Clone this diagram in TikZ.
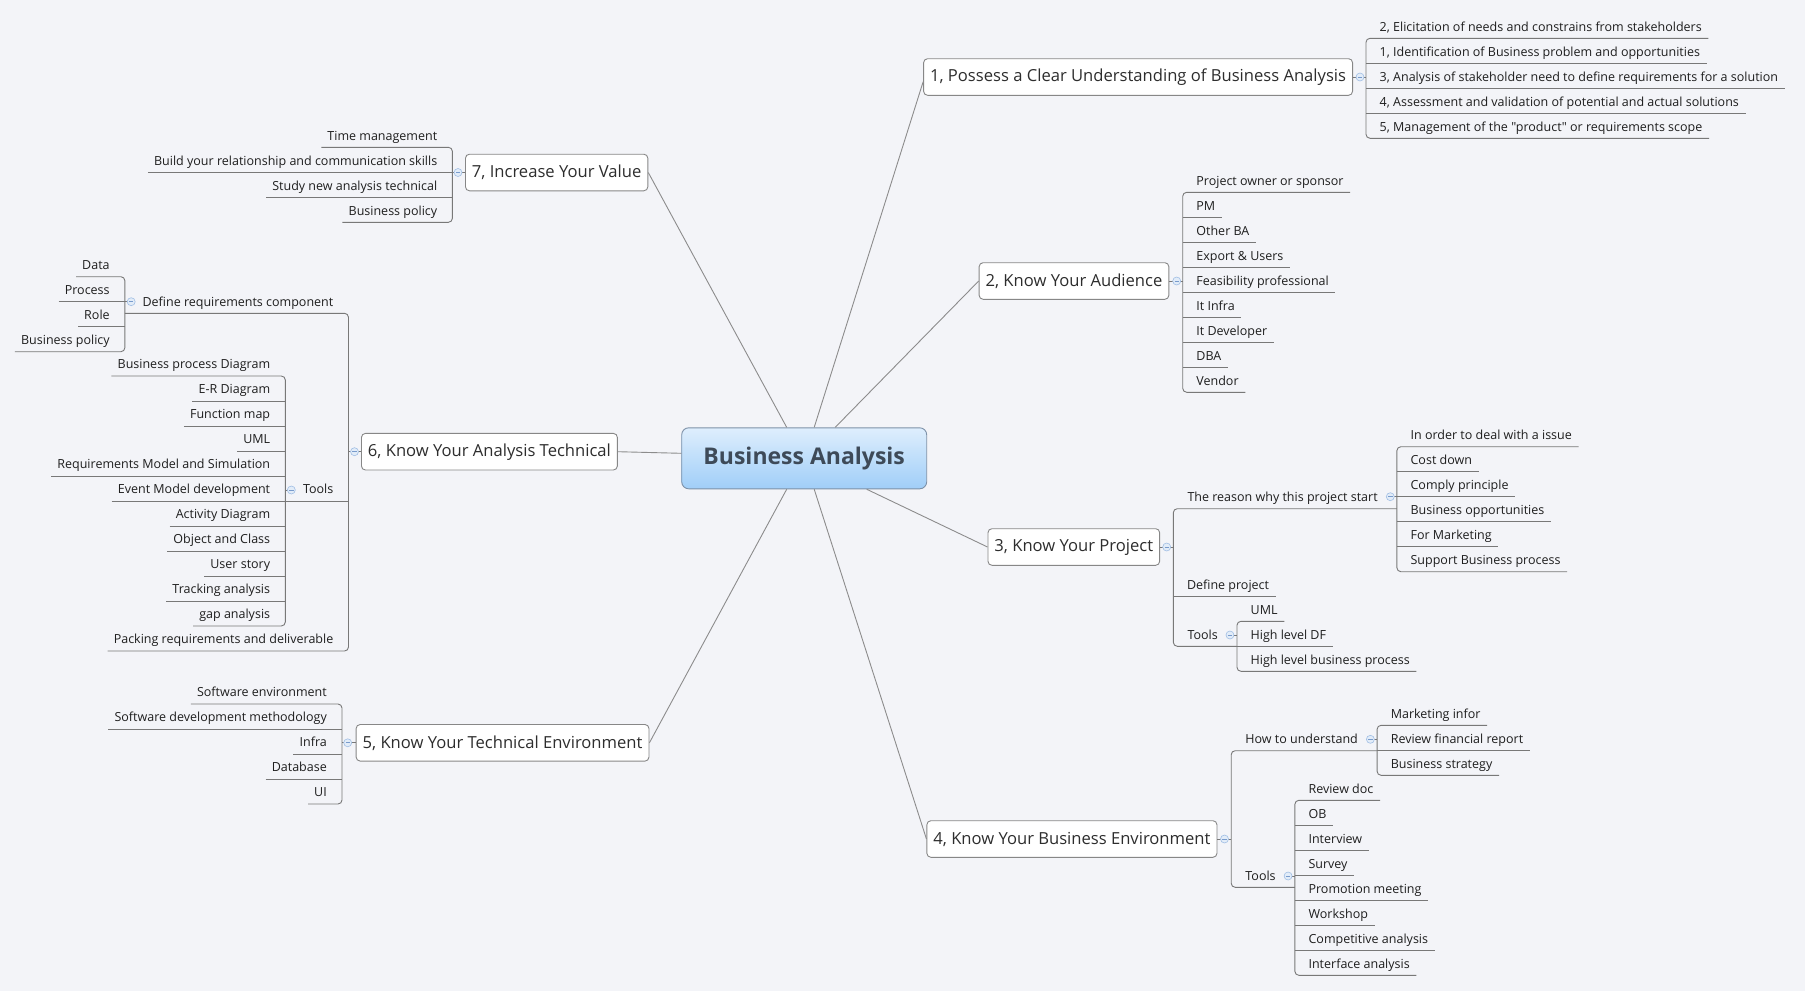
\documentclass[tikz,border=0pt]{standalone}
\usepackage{fontspec}
\setmainfont{Open Sans}
\newfontfamily\mmraw{Open Sans}[Ligatures=TeXOff]
\usetikzlibrary{calc}
\definecolor{bgc}{RGB}{243,244,248}
\definecolor{conncol}{RGB}{140,140,140}
\definecolor{ulcol}{RGB}{120,120,120}
\definecolor{topicbd}{RGB}{135,135,135}
\definecolor{txtc}{RGB}{30,30,30}
\definecolor{topictxt}{RGB}{45,45,45}
\definecolor{colbd}{RGB}{160,190,228}
\definecolor{colfill}{RGB}{226,236,248}
\definecolor{colminus}{RGB}{120,155,205}
\definecolor{ctop}{RGB}{222,238,253}
\definecolor{cbot}{RGB}{160,206,248}
\definecolor{cbd}{RGB}{125,145,168}
\definecolor{ctext}{RGB}{62,74,88}
\newcommand\mmleaf{\fontsize{12.5}{15}\selectfont}
\newcommand\mmtopic{\fontsize{16.6}{20}\selectfont}
\newcommand\mmcentral{\fontsize{23}{28}\selectfont\bfseries}
\tikzset{
  conn/.style={draw=conncol, line width=0.9pt},
  uline/.style={draw=ulcol, line width=0.9pt},
  topic/.style={draw=topicbd, fill=white, rounded corners=4pt, line width=0.9pt,
    font=\mmtopic, text=topictxt, inner xsep=6.5pt, inner ysep=0pt, minimum height=36.6pt},
  central/.style={draw=cbd, rounded corners=7pt, top color=ctop, bottom color=cbot,
    minimum width=245pt, minimum height=61pt, font=\mmcentral, text=ctext, line width=0.9pt},
  mmtext/.style={inner xsep=0pt, inner ysep=0pt, text height=10pt, text depth=7pt,
    font=\mmleaf, text=txtc},
  leafR/.style={mmtext, anchor=south west,
    execute at begin node={\hspace*{13.5pt}}, execute at end node={\hspace*{6.5pt}}},
  subR/.style={mmtext, anchor=south west,
    execute at begin node={\hspace*{14pt}}, execute at end node={\hspace*{19pt}}},
  leafL/.style={mmtext, anchor=south east,
    execute at begin node={\hspace*{6pt}}, execute at end node={\hspace*{15pt}}},
  subL/.style={mmtext, anchor=south east,
    execute at begin node={\hspace*{17.5pt}}, execute at end node={\hspace*{15pt}}},
  collapse/.style={circle, draw=colbd, fill=colfill, line width=0.6pt, minimum size=8pt,
    inner sep=0pt, path picture={\draw[colminus, line width=0.8pt]
      ([xshift=-2.2pt]path picture bounding box.center) --
      ([xshift=2.2pt]path picture bounding box.center);}}
}
\begin{document}
\begin{tikzpicture}[x=1pt,y=-1pt]
\fill[bgc] (0,0) rectangle (1805,991);
\useasboundingbox (0,0) rectangle (1805,991);

% central
\node[central] (c) at (804.2,458.3) {Business Analysis};

% main topics
\node[topic, anchor=east] (n1) at (1353,77) {1, Possess a Clear Understanding of Business Analysis};
\node[topic, anchor=east] (n2) at (1169.3,281) {2, Know Your Audience};
\node[topic, anchor=east] (n3) at (1160.1,547) {3, Know Your Project};
\node[topic, anchor=east] (n4) at (1217.4,839) {4, Know Your Business Environment};
\node[topic, anchor=west] (n5) at (355.7,742.8) {5, Know Your Technical Environment};
\node[topic, anchor=west] (n6) at (361,451.7) {6, Know Your Analysis Technical};
\node[topic, anchor=west] (n7) at (465,172.5) {7, Increase Your Value};

% connectors from central
\draw[conn] ([xshift=-17.5pt]c.north) -- (n7.east);
\draw[conn] ([xshift=10pt]c.north) -- ([yshift=-4.7pt]n1.west);
\draw[conn] ([xshift=31pt]c.north) -- (n2.west);
\draw[conn] ([yshift=5pt]c.west) -- (n6.east);
\draw[conn] ([xshift=-17.5pt]c.south) -- (n5.east);
\draw[conn] ([xshift=10pt]c.south) -- (n4.west);
\draw[conn] ([xshift=62.5pt]c.south) -- (n3.west);

% ---------- 1
\node[leafR] (l1a) at (1366,38.3) {2, Elicitation of needs and constrains from stakeholders};
\node[leafR] (l1b) at (1366,63.3) {1, Identification of Business problem and opportunities};
\node[leafR] (l1c) at (1366,88.3) {3, Analysis of stakeholder need to define requirements for a solution};
\node[leafR] (l1d) at (1366,113.3) {4, Assessment and validation of potential and actual solutions};
\node[leafR] (l1e) at (1366,138.3) {\mmraw 5, Management of the "product" or requirements scope};
\draw[uline, rounded corners=4pt] (l1a.south east) -- (l1a.south west) -- (l1e.south west) -- (l1e.south east);
\foreach \n in {l1b,l1c,l1d} \draw[uline] (\n.south west) -- (\n.south east);
\draw[uline] (n1.east) -- (n1.east -| l1a.south west);

% ---------- 2
\node[leafR] (l2a) at (1182.7,192.3) {Project owner or sponsor};
\node[leafR] (l2b) at (1182.7,217.3) {PM};
\node[leafR] (l2c) at (1182.7,242.3) {Other BA};
\node[leafR] (l2d) at (1182.7,267.3) {Export \& Users};
\node[leafR] (l2e) at (1182.7,292.3) {Feasibility professional};
\node[leafR] (l2f) at (1182.7,317.3) {It Infra};
\node[leafR] (l2g) at (1182.7,342.3) {It Developer};
\node[leafR] (l2h) at (1182.7,367.3) {DBA};
\node[leafR] (l2i) at (1182.7,392.3) {Vendor};
\draw[uline, rounded corners=4pt] (l2a.south east) -- (l2a.south west) -- (l2i.south west) -- (l2i.south east);
\foreach \n in {l2b,l2c,l2d,l2e,l2f,l2g,l2h} \draw[uline] (\n.south west) -- (\n.south east);
\draw[uline] (n2.east) -- (n2.east -| l2a.south west);

% ---------- 3
\node[subR] (s3a) at (1173.3,508.7) {The reason why this project start};
\node[leafR] (l3b) at (1173.3,596.7) {Define project};
\node[subR] (s3c) at (1173.3,646.3) {Tools};
\draw[uline, rounded corners=4pt] (s3a.south east) -- (s3a.south west) -- (s3c.south west) -- (s3c.south east);
\draw[uline] (l3b.south west) -- (l3b.south east);
\draw[uline] (n3.east) -- (n3.east -| s3a.south west);
\node[leafR] (r1) at (s3a.south east |- 0,446.7) {In order to deal with a issue};
\node[leafR] (r2) at (s3a.south east |- 0,471.7) {Cost down};
\node[leafR] (r3) at (s3a.south east |- 0,496.7) {Comply principle};
\node[leafR] (r4) at (s3a.south east |- 0,521.7) {Business opportunities};
\node[leafR] (r5) at (s3a.south east |- 0,546.7) {For Marketing};
\node[leafR] (r6) at (s3a.south east |- 0,571.7) {Support Business process};
\draw[uline, rounded corners=4pt] (r1.south east) -- (r1.south west) -- (r6.south west) -- (r6.south east);
\foreach \n in {r2,r3,r4,r5} \draw[uline] (\n.south west) -- (\n.south east);
\draw[uline] ([xshift=-6.6pt,yshift=12pt]s3a.south east) -- ([yshift=12pt]s3a.south east);
\node[leafR] (u1) at (s3c.south east |- 0,621.3) {UML};
\node[leafR] (u2) at (s3c.south east |- 0,646.3) {High level DF};
\node[leafR] (u3) at (s3c.south east |- 0,671.3) {High level business process};
\draw[uline, rounded corners=4pt] (u1.south east) -- (u1.south west) -- (u3.south west) -- (u3.south east);
\draw[uline] (u2.south west) -- (u2.south east);
\draw[uline] ([xshift=-7pt,yshift=11.3pt]s3c.south east) -- ([yshift=11.3pt]s3c.south east);

% ---------- 4
\node[subR] (s4a) at (1231.2,750.7) {How to understand};
\node[subR] (s4b) at (1231.2,887.3) {Tools};
\draw[uline, rounded corners=4pt] (s4a.south east) -- (s4a.south west) -- (s4b.south west) -- (s4b.south east);
\draw[uline] (n4.east) -- (n4.east -| s4a.south west);
\node[leafR] (h1) at (s4a.south east |- 0,725.3) {Marketing infor};
\node[leafR] (h2) at (s4a.south east |- 0,750.3) {Review financial report};
\node[leafR] (h3) at (s4a.south east |- 0,775.3) {Business strategy};
\draw[uline, rounded corners=4pt] (h1.south east) -- (h1.south west) -- (h3.south west) -- (h3.south east);
\draw[uline] (h2.south west) -- (h2.south east);
\draw[uline] ([xshift=-6.7pt,yshift=11.4pt]s4a.south east) -- ([yshift=11.4pt]s4a.south east);
\node[leafR] (t1) at (s4b.south east |- 0,800.3) {Review doc};
\node[leafR] (t2) at (s4b.south east |- 0,825.3) {OB};
\node[leafR] (t3) at (s4b.south east |- 0,850.3) {Interview};
\node[leafR] (t4) at (s4b.south east |- 0,875.3) {Survey};
\node[leafR] (t5) at (s4b.south east |- 0,900.3) {Promotion meeting};
\node[leafR] (t6) at (s4b.south east |- 0,925.3) {Workshop};
\node[leafR] (t7) at (s4b.south east |- 0,950.3) {Competitive analysis};
\node[leafR] (t8) at (s4b.south east |- 0,975.3) {Interface analysis};
\draw[uline, rounded corners=4pt] (t1.south east) -- (t1.south west) -- (t8.south west) -- (t8.south east);
\foreach \n in {t2,t3,t4,t5,t6,t7} \draw[uline] (\n.south west) -- (\n.south east);
\draw[uline] ([xshift=-6.8pt,yshift=11.3pt]s4b.south east) -- ([yshift=11.3pt]s4b.south east);

% ---------- 5
\node[leafL] (l5a) at (342,704) {Software environment};
\node[leafL] (l5b) at (342,729) {Software development methodology};
\node[leafL] (l5c) at (342,754) {Infra};
\node[leafL] (l5d) at (342,779) {Database};
\node[leafL] (l5e) at (342,804) {UI};
\draw[uline, rounded corners=4pt] (l5a.south west) -- (l5a.south east) -- (l5e.south east) -- (l5e.south west);
\foreach \n in {l5b,l5c,l5d} \draw[uline] (\n.south west) -- (\n.south east);
\draw[uline] (n5.west) -- (n5.west -| l5a.south east);

% ---------- 6
\node[subL] (s6a) at (348.5,313.3) {Define requirements component};
\node[subL] (s6b) at (348.5,501) {Tools};
\node[leafL] (l6p) at (348.5,651) {Packing requirements and deliverable};
\draw[uline, rounded corners=4pt] (s6a.south west) -- (s6a.south east) -- (l6p.south east) -- (l6p.south west);
\draw[uline] (s6b.south west) -- (s6b.south east);
\draw[uline] (n6.west) -- (n6.west -| s6a.south east);
\node[leafL] (d1) at (s6a.south west |- 0,276.7) {Data};
\node[leafL] (d2) at (s6a.south west |- 0,301.7) {Process};
\node[leafL] (d3) at (s6a.south west |- 0,326.7) {Role};
\node[leafL] (d4) at (s6a.south west |- 0,351.7) {Business policy};
\draw[uline, rounded corners=4pt] (d1.south west) -- (d1.south east) -- (d4.south east) -- (d4.south west);
\foreach \n in {d2,d3} \draw[uline] (\n.south west) -- (\n.south east);
\draw[uline] ([xshift=6.3pt,yshift=11.6pt]s6a.south west) -- ([yshift=11.6pt]s6a.south west);
\node[leafL] (g1) at (s6b.south west |- 0,376) {Business process Diagram};
\node[leafL] (g2) at (s6b.south west |- 0,401) {E-R Diagram};
\node[leafL] (g3) at (s6b.south west |- 0,426) {Function map};
\node[leafL] (g4) at (s6b.south west |- 0,451) {UML};
\node[leafL] (g5) at (s6b.south west |- 0,476) {Requirements Model and Simulation};
\node[leafL] (g6) at (s6b.south west |- 0,501) {Event Model development};
\node[leafL] (g7) at (s6b.south west |- 0,526) {Activity Diagram};
\node[leafL] (g8) at (s6b.south west |- 0,551) {Object and Class};
\node[leafL] (g9) at (s6b.south west |- 0,576) {User story};
\node[leafL] (g10) at (s6b.south west |- 0,601) {Tracking analysis};
\node[leafL] (g11) at (s6b.south west |- 0,626) {gap analysis};
\draw[uline, rounded corners=4pt] (g1.south west) -- (g1.south east) -- (g11.south east) -- (g11.south west);
\foreach \n in {g2,g3,g4,g5,g6,g7,g8,g9,g10} \draw[uline] (\n.south west) -- (\n.south east);
\draw[uline] ([xshift=6pt,yshift=11pt]s6b.south west) -- ([yshift=11pt]s6b.south west);

% ---------- 7
\node[leafL] (l7a) at (452.4,147.3) {Time management};
\node[leafL] (l7b) at (452.4,172.3) {Build your relationship and communication skills};
\node[leafL] (l7c) at (452.4,197.3) {Study new analysis technical};
\node[leafL] (l7d) at (452.4,222.3) {Business policy};
\draw[uline, rounded corners=4pt] (l7a.south west) -- (l7a.south east) -- (l7d.south east) -- (l7d.south west);
\foreach \n in {l7b,l7c} \draw[uline] (\n.south west) -- (\n.south east);
\draw[uline] (n7.west) -- (n7.west -| l7a.south east);

% collapse markers
\node[collapse] (k1) at ([xshift=7pt]n1.east) {};
\node[collapse] (k2) at ([xshift=7.4pt]n2.east) {};
\node[collapse] (k3) at ([xshift=6.6pt]n3.east) {};
\node[collapse] (k4) at ([xshift=7.1pt]n4.east) {};
\node[collapse] (k5) at ([xshift=-8pt]n5.west) {};
\node[collapse] (k6) at ([xshift=-6.5pt]n6.west) {};
\node[collapse] (k7) at ([xshift=-7pt]n7.west) {};
\node[collapse] (k3a) at ([xshift=-6.6pt,yshift=12pt]s3a.south east) {};
\node[collapse] (k3c) at ([xshift=-7pt,yshift=11.3pt]s3c.south east) {};
\node[collapse] (k4a) at ([xshift=-6.7pt,yshift=11.4pt]s4a.south east) {};
\node[collapse] (k4b) at ([xshift=-6.8pt,yshift=11.3pt]s4b.south east) {};
\node[collapse] (k6a) at ([xshift=6.3pt,yshift=11.6pt]s6a.south west) {};
\node[collapse] (k6b) at ([xshift=6pt,yshift=11pt]s6b.south west) {};
\end{tikzpicture}
\end{document}
